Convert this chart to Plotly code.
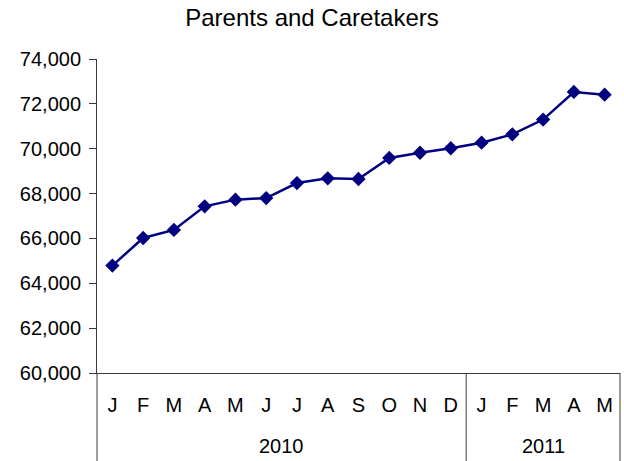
import plotly.graph_objects as go

# Monthly enrollment, Parents and Caretakers
years = ["2010"] * 12 + ["2011"] * 5
months = ["J", "F", "M", "A", "M", "J", "J", "A", "S", "O", "N", "D",
          "J", "F", "M", "A", "M"]
enrollment = [64790, 66020, 66380, 67430, 67730, 67800, 68470, 68680, 68650,
              69590, 69820, 70020, 70270, 70640, 71300, 72530, 72410]

y_ticks = [60000, 62000, 64000, 66000, 68000, 70000, 72000, 74000]

font_family = "Liberation Sans, Arial, sans-serif"
axis_color = "#3a3a3a"

# one unique category per month, labelled with its initial
categories = [f"{y}-{i:02d}" for i, y in enumerate(years)]
n = len(categories)

fig = go.Figure(
    go.Scatter(
        x=categories,
        y=enrollment,
        mode="lines+markers",
        line=dict(color="#000080", width=2.5),
        marker=dict(symbol="diamond", size=11, color="#000080"),
        showlegend=False,
    )
)

# year group labels and the dividers between the year groups
year_order = list(dict.fromkeys(years))
start = 0
bounds = [0.0]
for yr in year_order:
    count = years.count(yr)
    fig.add_annotation(
        x=start + (count - 1) / 2, xref="x",
        y=-0.232, yref="paper",
        text=yr, showarrow=False,
        xanchor="center", yanchor="middle",
        font=dict(size=20, family=font_family, color="black"),
    )
    start += count
    bounds.append(start / n)

for b in bounds:
    fig.add_shape(
        type="line", xref="paper", yref="paper",
        x0=b, x1=b, y0=0, y1=-0.3,
        line=dict(color=axis_color, width=1),
    )

fig.update_layout(
    width=624,
    height=461,
    margin=dict(l=97, r=4, t=59, b=88),
    paper_bgcolor="white",
    plot_bgcolor="white",
    font=dict(family=font_family, color="black", size=20),
    title=dict(
        text="Parents and Caretakers",
        x=0.5,
        xanchor="center",
        y=1 - 18 / 461,
        yanchor="middle",
        font=dict(size=24, family=font_family, color="black"),
    ),
)

fig.update_xaxes(
    type="category",
    range=[-0.5, n - 0.5],
    tickvals=categories,
    ticktext=months,
    showline=True,
    linecolor=axis_color,
    linewidth=1,
    mirror=False,
    showgrid=False,
    ticks="",
    ticklabelstandoff=14,
    tickfont=dict(size=20, family=font_family, color="black"),
)

fig.update_yaxes(
    range=[60000, 74000],
    tickvals=y_ticks,
    tickformat=",d",
    showline=True,
    linecolor=axis_color,
    linewidth=1,
    showgrid=False,
    zeroline=False,
    ticks="outside",
    ticklen=7,
    tickcolor=axis_color,
    ticklabelstandoff=4,
    tickfont=dict(size=20, family=font_family, color="black"),
)

fig.write_html("out.html")
